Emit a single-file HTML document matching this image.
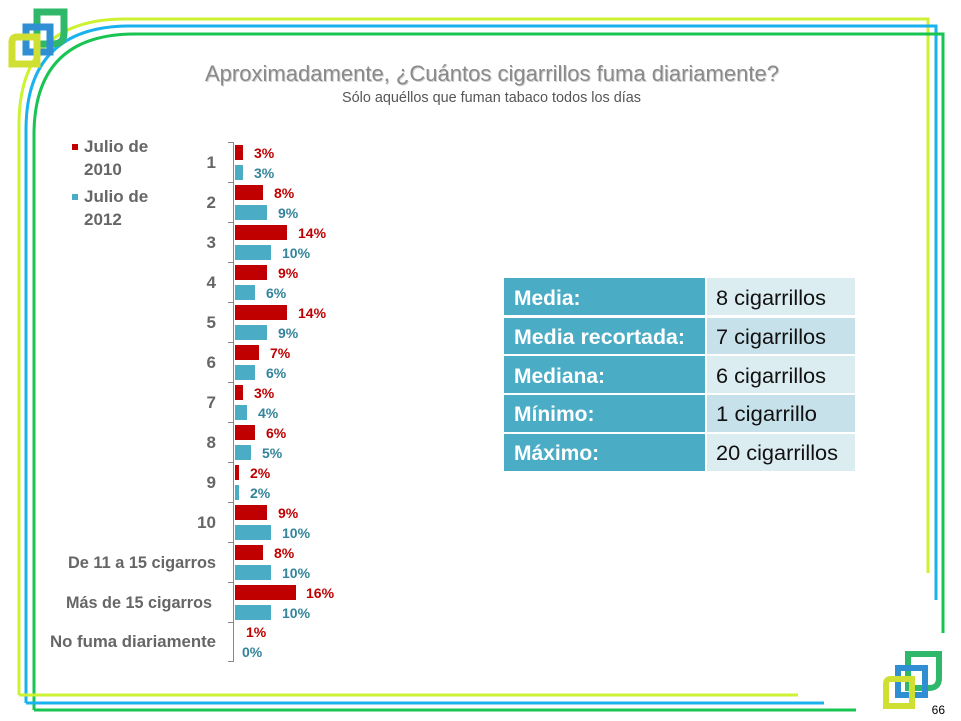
<!DOCTYPE html>
<html><head><meta charset="utf-8"><style>
html,body{margin:0;padding:0;background:#fff;}
svg{display:block;font-family:"Liberation Sans",sans-serif;}
.r{fill:#c00000;font-weight:bold;font-size:14px}
.b{fill:#31849b;font-weight:bold;font-size:14px}
.c{fill:#666;font-weight:bold;font-size:17px;text-anchor:end}
.tl{fill:#fff;font-size:21px;font-weight:bold}
.tv{fill:#111;font-size:21px}
</style></head><body>
<svg width="961" height="721" viewBox="0 0 961 721">
<path d="M19,695 V125 Q19,19 125,19 H928 V573" fill="none" stroke="#ccf233" stroke-width="3"/>
<path d="M26,703 V130 Q26,26 130,26 H936 V600" fill="none" stroke="#1ab2ee" stroke-width="3"/>
<path d="M34,710 V135 Q34,34 135,34 H943 V633" fill="none" stroke="#19c452" stroke-width="3"/>
<path d="M19,695 H798" stroke="#ccf233" stroke-width="3"/>
<path d="M26,703 H824" stroke="#1ab2ee" stroke-width="3"/>
<path d="M34,710 H856" stroke="#19c452" stroke-width="3"/>
<g fill="none" stroke-width="7">
<path d="M37,12 H64 V33 Q64,44 53,44 H37 Z" stroke="#2fb86a"/>
<path d="M26,27 H50 V52 H26 Z" stroke="#2f8fd2"/>
<path d="M12,42 Q12,37 17,37 H37 V64 H12 Z" stroke="#cfe033"/>
</g>
<text x="492" y="81" text-anchor="middle" font-size="22" fill="#cfcfcf" textLength="574" lengthAdjust="spacingAndGlyphs" transform="translate(1,1)">Aproximadamente, ¿Cuántos cigarrillos fuma diariamente?</text>
<text x="492" y="81" text-anchor="middle" font-size="22" fill="#8a8a8a" textLength="574" lengthAdjust="spacingAndGlyphs">Aproximadamente, ¿Cuántos cigarrillos fuma diariamente?</text>
<text x="641" y="102" text-anchor="end" font-size="15" fill="#555" textLength="299" lengthAdjust="spacingAndGlyphs">Sólo aquéllos que fuman tabaco todos los días</text>
<rect x="72" y="144" width="6" height="6" fill="#c00000"/>
<text x="84" y="152" font-size="17" font-weight="bold" fill="#666">Julio de</text>
<text x="84" y="175" font-size="17" font-weight="bold" fill="#666">2010</text>
<rect x="72" y="194" width="6" height="6" fill="#4bacc6"/>
<text x="84" y="202" font-size="17" font-weight="bold" fill="#666">Julio de</text>
<text x="84" y="225" font-size="17" font-weight="bold" fill="#666">2012</text>
<g stroke="#888" stroke-width="1">
<line x1="233.5" y1="142" x2="233.5" y2="662"/>
<line x1="228" y1="142.5" x2="233" y2="142.5"/><line x1="228" y1="182.5" x2="233" y2="182.5"/><line x1="228" y1="222.5" x2="233" y2="222.5"/><line x1="228" y1="262.5" x2="233" y2="262.5"/><line x1="228" y1="302.5" x2="233" y2="302.5"/><line x1="228" y1="342.5" x2="233" y2="342.5"/><line x1="228" y1="382.5" x2="233" y2="382.5"/><line x1="228" y1="422.5" x2="233" y2="422.5"/><line x1="228" y1="462.5" x2="233" y2="462.5"/><line x1="228" y1="502.5" x2="233" y2="502.5"/><line x1="228" y1="542.5" x2="233" y2="542.5"/><line x1="228" y1="582.5" x2="233" y2="582.5"/><line x1="228" y1="622.5" x2="233" y2="622.5"/><line x1="228" y1="661.5" x2="233" y2="661.5"/>
</g>
<text class="c" x="216" y="168">1</text>
<text class="c" x="216" y="208">2</text>
<text class="c" x="216" y="248">3</text>
<text class="c" x="216" y="288">4</text>
<text class="c" x="216" y="328">5</text>
<text class="c" x="216" y="368">6</text>
<text class="c" x="216" y="408">7</text>
<text class="c" x="216" y="448">8</text>
<text class="c" x="216" y="488">9</text>
<text class="c" x="216" y="528">10</text>
<text class="c" x="216" y="568" textLength="148" lengthAdjust="spacingAndGlyphs">De 11 a 15 cigarros</text>
<text class="c" x="212" y="608" textLength="146" lengthAdjust="spacingAndGlyphs">Más de 15 cigarros</text>
<text class="c" x="216" y="647" textLength="166" lengthAdjust="spacingAndGlyphs">No fuma diariamente</text>
<g fill="#c00000">
<rect x="235" y="145" width="8" height="15"/>
<rect x="235" y="185" width="28" height="15"/>
<rect x="235" y="225" width="52" height="15"/>
<rect x="235" y="265" width="32" height="15"/>
<rect x="235" y="305" width="52" height="15"/>
<rect x="235" y="345" width="24" height="15"/>
<rect x="235" y="385" width="8" height="15"/>
<rect x="235" y="425" width="20" height="15"/>
<rect x="235" y="465" width="4" height="15"/>
<rect x="235" y="505" width="32" height="15"/>
<rect x="235" y="545" width="28" height="15"/>
<rect x="235" y="585" width="61" height="15"/>
</g>
<g fill="#4bacc6">
<rect x="235" y="165" width="8" height="15"/>
<rect x="235" y="205" width="32" height="15"/>
<rect x="235" y="245" width="36" height="15"/>
<rect x="235" y="285" width="20" height="15"/>
<rect x="235" y="325" width="32" height="15"/>
<rect x="235" y="365" width="20" height="15"/>
<rect x="235" y="405" width="12" height="15"/>
<rect x="235" y="445" width="16" height="15"/>
<rect x="235" y="485" width="4" height="15"/>
<rect x="235" y="525" width="36" height="15"/>
<rect x="235" y="565" width="36" height="15"/>
<rect x="235" y="605" width="36" height="15"/>
</g>
<text class="r" x="254" y="158">3%</text><text class="b" x="254" y="178">3%</text>
<text class="r" x="274" y="198">8%</text><text class="b" x="278" y="218">9%</text>
<text class="r" x="298" y="238">14%</text><text class="b" x="282" y="258">10%</text>
<text class="r" x="278" y="278">9%</text><text class="b" x="266" y="298">6%</text>
<text class="r" x="298" y="318">14%</text><text class="b" x="278" y="338">9%</text>
<text class="r" x="270" y="358">7%</text><text class="b" x="266" y="378">6%</text>
<text class="r" x="254" y="398">3%</text><text class="b" x="258" y="418">4%</text>
<text class="r" x="266" y="438">6%</text><text class="b" x="262" y="458">5%</text>
<text class="r" x="250" y="478">2%</text><text class="b" x="250" y="498">2%</text>
<text class="r" x="278" y="518">9%</text><text class="b" x="282" y="538">10%</text>
<text class="r" x="274" y="558">8%</text><text class="b" x="282" y="578">10%</text>
<text class="r" x="306" y="598">16%</text><text class="b" x="282" y="618">10%</text>
<text class="r" x="246" y="637">1%</text><text class="b" x="242" y="657">0%</text>
<rect x="504" y="278" width="201" height="37" fill="#4bacc6"/><rect x="707" y="278" width="148" height="37" fill="#dcedf2"/>
<rect x="504" y="318" width="201" height="36" fill="#4bacc6"/><rect x="707" y="318" width="148" height="36" fill="#c7e1ea"/>
<rect x="504" y="356" width="201" height="37" fill="#4bacc6"/><rect x="707" y="356" width="148" height="37" fill="#dcedf2"/>
<rect x="504" y="395" width="201" height="37" fill="#4bacc6"/><rect x="707" y="395" width="148" height="37" fill="#c7e1ea"/>
<rect x="504" y="434" width="201" height="37" fill="#4bacc6"/><rect x="707" y="434" width="148" height="37" fill="#dcedf2"/>
<text class="tl" x="514" y="305">Media:</text>
<text class="tl" x="514" y="344" textLength="171" lengthAdjust="spacingAndGlyphs">Media recortada:</text>
<text class="tl" x="514" y="383">Mediana:</text>
<text class="tl" x="514" y="421">Mínimo:</text>
<text class="tl" x="514" y="460">Máximo:</text>
<text class="tv" x="716" y="305" textLength="110" lengthAdjust="spacingAndGlyphs">8 cigarrillos</text>
<text class="tv" x="716" y="344" textLength="110" lengthAdjust="spacingAndGlyphs">7 cigarrillos</text>
<text class="tv" x="716" y="383" textLength="110" lengthAdjust="spacingAndGlyphs">6 cigarrillos</text>
<text class="tv" x="716" y="421" textLength="101" lengthAdjust="spacingAndGlyphs">1 cigarrillo</text>
<text class="tv" x="716" y="460" textLength="122" lengthAdjust="spacingAndGlyphs">20 cigarrillos</text>
<g fill="none" stroke-width="6">
<path d="M908,654 H939 V678 Q939,688 929,688 H908 Z" stroke="#2fb86a"/>
<path d="M898,668 H925 V695 H898 Z" stroke="#2f8fd2"/>
<path d="M886,684 Q886,679 891,679 H912 V706 H886 Z" stroke="#cfe033"/>
</g>
<text x="945" y="714" text-anchor="end" font-size="12" fill="#000">66</text>
</svg>
</body></html>
